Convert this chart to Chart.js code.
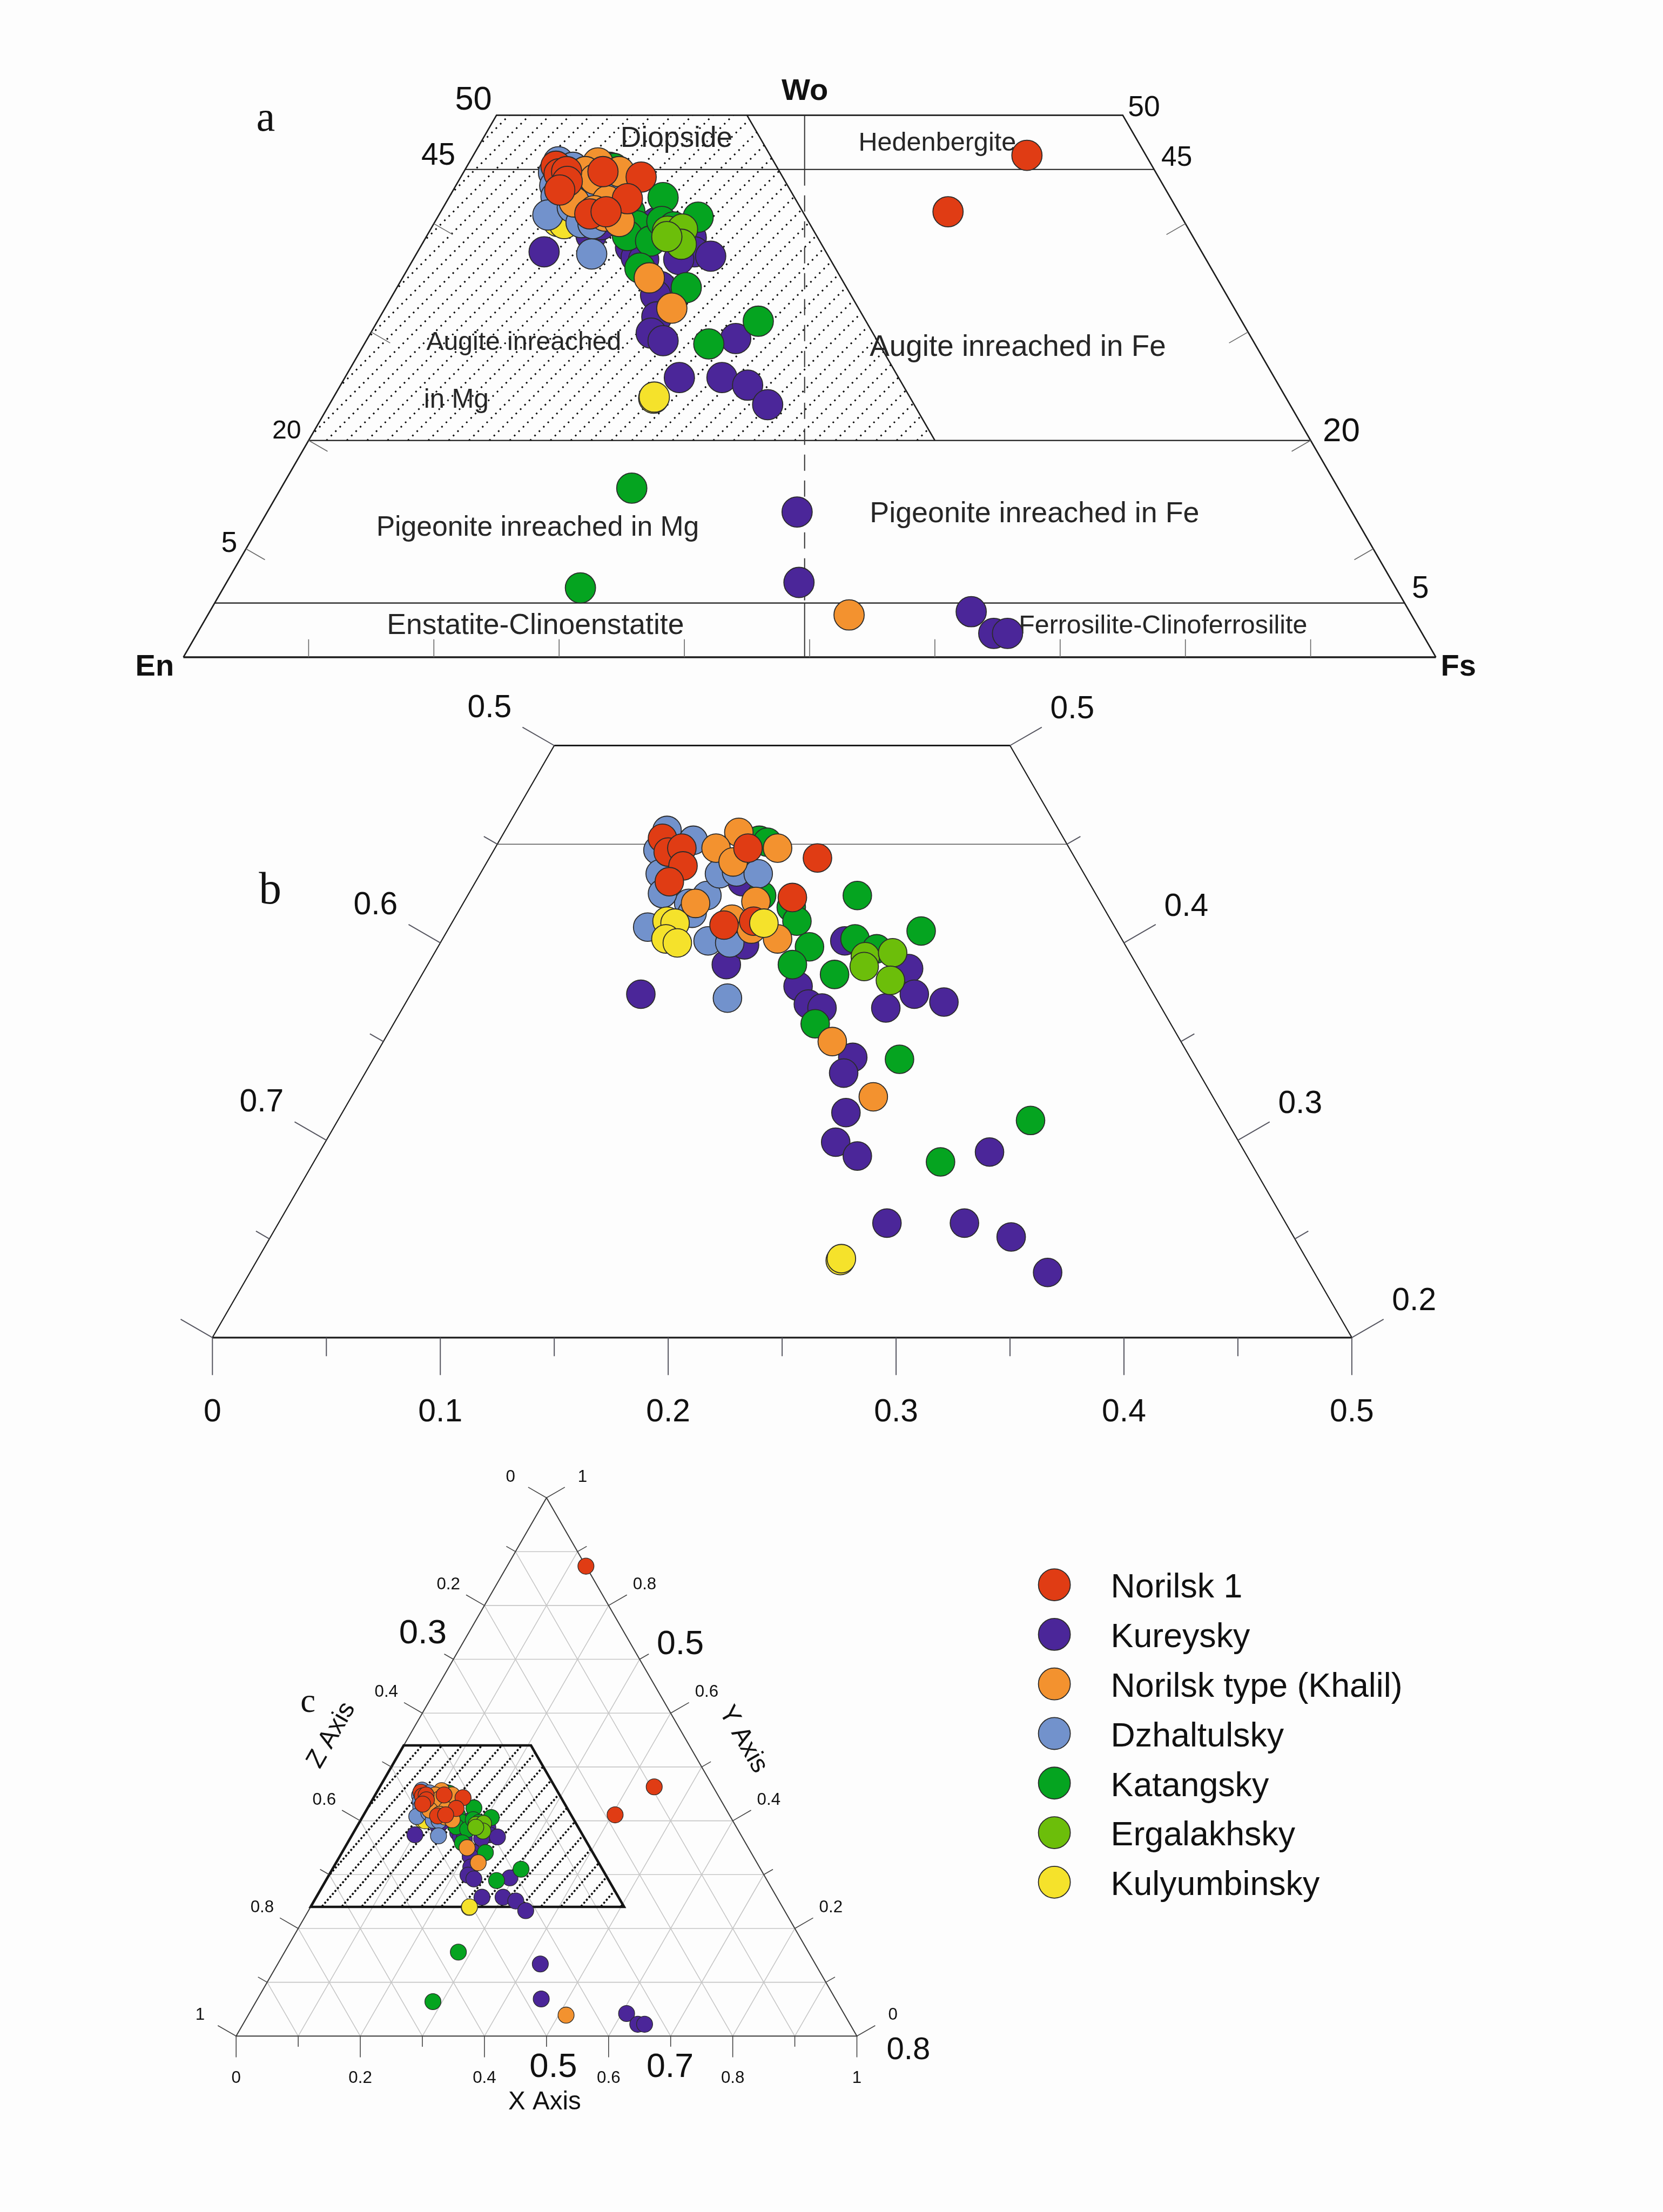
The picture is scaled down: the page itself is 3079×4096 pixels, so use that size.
<!DOCTYPE html>
<html>
<head>
<title>Pyroxene ternary diagrams</title>
<script src="https://cdn.jsdelivr.net/npm/chart.js@4.4.1/dist/chart.umd.min.js"></script>
<style>
  body { margin: 0; background: #fdfdfd; }
  canvas { position: absolute; left: 0; }
</style>
</head>
<body>
<canvas id="chartA" width="3079" height="1280" style="top:0px"></canvas>
<canvas id="chartB" width="3079" height="1410" style="top:1280px"></canvas>
<canvas id="chartC" width="3079" height="1406" style="top:2690px"></canvas>
<script>
// pyroxene compositions: [Wo %, Fs %]  (En = 100 - Wo - Fs)
const norilsk1 = [[45.3,7.1],[44.6,7.7],[44.8,8.2],[43.9,8.7],[43.1,8.5],[44.8,11.1],[44.3,14.4],[42.3,14.3],[40.9,12.0],[41.1,13.2],[46.3,44.2],[41.1,40.5],[87.3,12.7]];
const kureysky = [[43.1,11.7],[37.4,10.1],[38.9,13.1],[39.9,13.4],[40.1,17.7],[38.7,21.2],[37.4,22.1],[36.7,21.2],[37.0,23.6],[37.8,16.8],[36.9,17.7],[36.7,18.4],[34.2,21.0],[33.4,21.0],[31.4,22.1],[29.9,22.4],[29.2,23.7],[29.4,29.4],[25.8,26.7],[25.8,30.1],[25.1,32.5],[23.3,35.0],[13.4,42.3],[6.9,45.7],[4.2,60.8],[2.2,63.6],[2.2,64.7]];
const norilskType = [[45.6,10.3],[44.8,9.7],[44.1,10.8],[44.8,12.4],[42.0,10.2],[42.1,12.8],[41.2,12.2],[40.7,13.3],[40.2,14.7],[35.0,19.7],[32.2,22.9],[3.9,51.2]];
const dzhaltulsky = [[45.7,7.1],[44.7,7.2],[45.2,8.5],[42.0,9.9],[43.5,7.9],[42.5,8.5],[42.4,10.5],[43.5,10.5],[43.6,11.2],[43.5,12.2],[40.8,8.7],[41.5,10.3],[40.1,11.7],[40.0,12.7],[37.2,14.0]];
const katangsky = [[45.2,11.4],[45.1,11.8],[42.4,12.9],[42.4,17.1],[40.6,20.8],[41.8,14.5],[41.1,15.1],[39.8,16.3],[38.9,16.0],[38.4,18.1],[40.2,18.1],[39.7,19.3],[35.9,18.5],[34.1,23.1],[31.0,30.4],[28.9,27.5],[15.6,28.0],[6.4,28.5]];
const ergalakhsky = [[39.3,19.0],[39.5,20.1],[38.1,20.7],[38.8,19.2]];
const kulyumbinsky = [[41.1,9.4],[41.0,9.8],[40.2,9.8],[40.0,10.4],[41.0,13.7],[23.9,25.6],[24.0,25.6]];

const seriesList = [norilsk1, kureysky, norilskType, dzhaltulsky, katangsky, ergalakhsky, kulyumbinsky];
const seriesNames = ['Norilsk 1', 'Kureysky', 'Norilsk type (Khalil)', 'Dzhaltulsky', 'Katangsky', 'Ergalakhsky', 'Kulyumbinsky'];
const seriesColors = ['#e03c14', '#4b2699', '#f3922f', '#7292cc', '#05a420', '#6cbe0a', '#f5e22b'];
// painting order per panel, lower = on top
const stackingA = [1, 6, 2, 3, 5, 4, 5.5];
const stackingB = [1, 6, 2, 3, 5, 4, 0];

// tick values
const sideTicksA = [10, 20, 30, 40];
const enLabelsB = [0.5, 0.4, 0.3];      // Wo at which the En labels sit
const woLabelsB = [0.5, 0.4, 0.3, 0.2];

const K = 3079 / 1179;   // sizes below are measured on the 1179px preview
const SANS = "'Liberation Sans', Arial, sans-serif";
const SERIF = "'Liberation Serif', 'Times New Roman', serif";

// ---- drawing helpers (h = Fs + Wo/2, w = Wo) ----
function at(chart, h, w) {
  return [chart.scales.x.getPixelForValue(h), chart.scales.y.getPixelForValue(w)];
}
function line(ctx, chart, pts, close) {
  ctx.beginPath();
  pts.forEach((p, i) => {
    const q = at(chart, p[0], p[1]);
    if (i) ctx.lineTo(q[0], q[1]); else ctx.moveTo(q[0], q[1]);
  });
  if (close) ctx.closePath();
  ctx.stroke();
}
function tick(ctx, p, dir, len) {
  ctx.beginPath();
  ctx.moveTo(p[0], p[1]);
  ctx.lineTo(p[0] + dir[0] * len, p[1] + dir[1] * len);
  ctx.stroke();
}
function shift(p, dir, len) {
  return [p[0] + dir[0] * len, p[1] + dir[1] * len];
}
function text(ctx, s, p, size, opt) {
  opt = opt || {};
  ctx.save();
  ctx.font = (opt.weight || 'normal') + ' ' + (size * K).toFixed(1) + 'px ' + (opt.family || SANS);
  ctx.fillStyle = opt.color || '#111';
  ctx.textAlign = opt.align || 'center';
  ctx.textBaseline = 'middle';
  ctx.translate(p[0], p[1]);
  if (opt.rotate) ctx.rotate(opt.rotate);
  ctx.fillText(s, 0, 0);
  ctx.restore();
}
function hatch(ctx, chart, pts, gap, deg, lw, dash) {
  ctx.save();
  ctx.beginPath();
  pts.forEach((p, i) => {
    const q = at(chart, p[0], p[1]);
    if (i) ctx.lineTo(q[0], q[1]); else ctx.moveTo(q[0], q[1]);
  });
  ctx.closePath();
  ctx.clip();
  const area = chart.chartArea;
  const rise = area.bottom - area.top + 2 * gap;
  const run = rise / Math.tan(deg * Math.PI / 180);
  ctx.strokeStyle = '#0a0a0a';
  ctx.lineWidth = lw;
  ctx.setLineDash(dash);
  for (let x = area.left - run - gap; x < area.right + gap; x += gap) {
    ctx.beginPath();
    ctx.moveTo(x, area.bottom + gap);
    ctx.lineTo(x + run, area.bottom + gap - rise);
    ctx.stroke();
  }
  ctx.restore();
}
function fmt(v) {
  if (Math.abs(v) < 1e-9) return '0';
  if (Math.abs(v - 1) < 1e-9) return '1';
  return v.toFixed(1);
}

// ---- panel a : Wo-En-Fs, Wo up to 50 % ----
const frameA = {
  id: 'frameA',
  beforeDatasetsDraw(chart) {
    const ctx = chart.ctx;
    ctx.save();
    hatch(ctx, chart, [[25, 50], [45, 50], [60, 20], [10, 20]], 37.7, 45, 3, [3, 8.5]);
    ctx.strokeStyle = '#1c1c1c';
    ctx.lineWidth = 2.6;
    line(ctx, chart, [[45, 50], [60, 20]]);
    line(ctx, chart, [[0, 0], [25, 50], [75, 50], [100, 0]]);
    ctx.lineWidth = 3.6;
    line(ctx, chart, [[0, 0], [100, 0]]);
    ctx.lineWidth = 2.2;
    [45, 20, 5].forEach(w => line(ctx, chart, [[w / 2, w], [100 - w / 2, w]]));

    // En = Fs divide
    ctx.strokeStyle = '#333';
    ctx.lineWidth = 2;
    line(ctx, chart, [[49.6, 50], [49.6, 45]]);
    line(ctx, chart, [[49.6, 5], [49.6, 0]]);
    ctx.setLineDash([30, 18]);
    line(ctx, chart, [[49.6, 45], [49.6, 5]]);
    ctx.setLineDash([]);

    ctx.strokeStyle = '#666';
    ctx.lineWidth = 1.6;
    for (let f = 10; f < 100; f += 10) tick(ctx, at(chart, f, 0), [0, -1], 12.7 * K);
    sideTicksA.forEach(w => {
      tick(ctx, at(chart, w / 2, w), [0.866, 0.5], 15.5 * K);
      tick(ctx, at(chart, 100 - w / 2, w), [-0.866, 0.5], 15.5 * K);
    });

    const names = [
      ['Diopside', 34.9, 47.8, 20.4],
      ['Hedenbergite', 53.9, 47.4, 18.6],
      ['Augite inreached', 19.4, 29.0, 18.4],
      ['in Mg', 19.2, 23.7, 18.8],
      ['Augite inreached in Fe', 54.8, 28.55, 21.0],
      ['Pigeonite inreached in Mg', 15.4, 11.9, 19.8],
      ['Pigeonite inreached in Fe', 54.8, 13.2, 20.6],
      ['Enstatite-Clinoenstatite', 16.25, 2.9, 20.5],
      ['Ferrosilite-Clinoferrosilite', 66.7, 2.85, 18.5]
    ];
    names.forEach(n => text(ctx, n[0], at(chart, n[1], n[2]), n[3], { align: 'left', color: '#262626' }));

    const nums = [
      ['50', 23.16, 51.35, 23.5], ['45', 20.35, 46.2, 21.7], ['20', 8.25, 20.84, 18.5], ['5', 3.66, 10.47, 20.5],
      ['50', 76.69, 50.65, 20.5], ['45', 79.31, 46.02, 19.7], ['20', 92.45, 20.76, 23.7], ['5', 98.76, 6.24, 21.7]
    ];
    nums.forEach(n => text(ctx, n[0], at(chart, n[1], n[2]), n[3]));
    text(ctx, 'Wo', at(chart, 49.62, 52.2), 21.5, { weight: 'bold' });
    text(ctx, 'En', at(chart, -2.29, -0.91), 21.5, { weight: 'bold' });
    text(ctx, 'Fs', at(chart, 101.8, -0.91), 21.5, { weight: 'bold' });
    text(ctx, 'a', at(chart, 6.57, 49.6), 30, { family: SERIF });
    ctx.restore();
  }
};

// ---- panel b : zoom on the augite field ----
const frameB = {
  id: 'frameB',
  beforeDatasetsDraw(chart) {
    const ctx = chart.ctx;
    ctx.save();
    ctx.strokeStyle = '#555';
    ctx.lineWidth = 1.6;
    line(ctx, chart, [[0.225, 0.45], [0.475, 0.45]]);
    ctx.strokeStyle = '#1c1c1c';
    ctx.lineWidth = 2.2;
    line(ctx, chart, [[0.1, 0.2], [0.25, 0.5]]);
    line(ctx, chart, [[0.6, 0.2], [0.45, 0.5]]);
    ctx.lineWidth = 3.2;
    line(ctx, chart, [[0.1, 0.2], [0.6, 0.2]]);
    line(ctx, chart, [[0.25, 0.5], [0.45, 0.5]]);

    ctx.strokeStyle = '#55555f';
    ctx.lineWidth = 2;
    for (let i = 0; i <= 10; i++) {
      const f = i * 0.05;
      tick(ctx, at(chart, f + 0.1, 0.2), [0, 1], (i % 2 === 0 ? 26.6 : 13.2) * K);
      if (i % 2 === 0) text(ctx, fmt(f), shift(at(chart, f + 0.1, 0.2), [0, 1], 53.4 * K), 22.5);
    }
    for (let i = 0; i <= 6; i++) {
      const w = 0.2 + i * 0.05;
      const len = (i % 2 === 0 ? 26 : 11) * K;
      tick(ctx, at(chart, w / 2, w), [-0.866, -0.5], len);
      tick(ctx, at(chart, 0.7 - w / 2, w), [0.866, -0.5], len);
    }
    enLabelsB.forEach(w => text(ctx, fmt(1 - w), shift(at(chart, w / 2, w), [-0.866, -0.5], 53 * K), 22.5));
    woLabelsB.forEach(w => text(ctx, fmt(w), shift(at(chart, 0.7 - w / 2, w), [0.866, -0.5], 51 * K), 22.5));
    text(ctx, 'b', at(chart, 0.1253, 0.4259), 32, { family: SERIF });
    ctx.restore();
  }
};

// ---- panel c : full triangle ----
const frameC = {
  id: 'frameC',
  beforeDatasetsDraw(chart) {
    const ctx = chart.ctx;
    ctx.save();
    ctx.strokeStyle = '#c6c6c6';
    ctx.lineWidth = 1.6;
    for (let i = 1; i < 10; i++) {
      const v = i / 10;
      line(ctx, chart, [[v / 2, v], [1 - v / 2, v]]);
      line(ctx, chart, [[v, 0], [v + (1 - v) / 2, 1 - v]]);
      line(ctx, chart, [[1 - v, 0], [(1 - v) / 2, 1 - v]]);
    }
    const field = [[0.27, 0.54], [0.475, 0.54], [0.625, 0.24], [0.12, 0.24]];
    hatch(ctx, chart, field, 36.9, 49, 3.6, [3.6, 3.6]);
    ctx.strokeStyle = '#3a3a3a';
    ctx.lineWidth = 2;
    line(ctx, chart, [[0, 0], [1, 0], [0.5, 1]], true);
    ctx.strokeStyle = '#151515';
    ctx.lineWidth = 4.6;
    line(ctx, chart, field, true);

    ctx.strokeStyle = '#444';
    ctx.lineWidth = 1.6;
    for (let i = 0; i <= 10; i++) {
      const v = i / 10;
      const major = i % 2 === 0;
      const len = (major ? 15 : 7.5) * K;
      const pb = at(chart, v, 0);
      const pl = at(chart, (1 - v) / 2, 1 - v);
      const pr = at(chart, 1 - v / 2, v);
      tick(ctx, pb, [0, 1], len);
      tick(ctx, pl, [-0.866, -0.5], len);
      tick(ctx, pr, [0.866, -0.5], len);
      if (major) {
        text(ctx, fmt(v), shift(pb, [0, 1], 29.9 * K), 12);
        text(ctx, fmt(v), shift(pl, [-0.866, -0.5], 29.5 * K), 12);
        text(ctx, fmt(v), shift(pr, [0.866, -0.5], 29.5 * K), 12);
      }
    }
    const big = [['0.3', 0.3008, 0.7473, 24.3], ['0.5', 0.7155, 0.7274, 24], ['0.5', 0.511, -0.0585, 24.3],
                 ['0.7', 0.699, -0.0585, 24], ['0.8', 1.083, -0.0265, 22.3]];
    big.forEach(b => text(ctx, b[0], at(chart, b[1], b[2]), b[3]));
    text(ctx, 'X Axis', at(chart, 0.497, -0.1225), 18.2);
    text(ctx, 'Z Axis', at(chart, 0.1536, 0.559), 18.2, { rotate: -Math.PI / 3 });
    text(ctx, 'Y Axis', at(chart, 0.8166, 0.551), 18.2, { rotate: Math.PI / 3 });
    text(ctx, 'c', at(chart, 0.1157, 0.619), 24, { family: SERIF });
    ctx.restore();
  },
  afterDraw(chart) {
    const ctx = chart.ctx;
    ctx.save();
    chart.data.datasets.forEach((ds, i) => {
      const y = (1123.7 + i * 35.15 - 1030.04) * K;
      ctx.beginPath();
      ctx.arc(747.5 * K, y, 11.3 * K, 0, 2 * Math.PI);
      ctx.fillStyle = ds.backgroundColor;
      ctx.fill();
      ctx.lineWidth = 1.8;
      ctx.strokeStyle = '#2b2b2b';
      ctx.stroke();
      text(ctx, ds.label, [787.5 * K, y + 2.5 * K], 24, { align: 'left' });
    });
    ctx.restore();
  }
};

function makeDatasets(unit, keep, radius, border, stacking) {
  return seriesList.map((rows, i) => ({
    label: seriesNames[i],
    data: rows.filter(keep).map(([wo, fs]) => ({ x: (fs + wo / 2) / unit, y: wo / unit })),
    backgroundColor: seriesColors[i],
    borderColor: '#2b2b2b',
    borderWidth: border,
    pointRadius: radius,
    pointHoverRadius: radius,
    order: stacking[i]
  }));
}

function makeOptions(xr, yr, pad) {
  return {
    responsive: false,
    animation: false,
    devicePixelRatio: 1,
    events: [],
    layout: { padding: pad },
    plugins: { legend: { display: false }, tooltip: { enabled: false } },
    scales: {
      x: { type: 'linear', display: false, min: xr[0], max: xr[1] },
      y: { type: 'linear', display: false, min: yr[0], max: yr[1] }
    }
  };
}

new Chart(document.getElementById('chartA'), {
  type: 'scatter',
  data: { datasets: makeDatasets(1, r => r[0] <= 50, 28, 1.8, stackingA) },
  options: makeOptions([0, 100], [0, 50], { left: 339.5, right: 420.5, top: 213.4, bottom: 63 }),
  plugins: [frameA]
});

new Chart(document.getElementById('chartB'), {
  type: 'scatter',
  data: { datasets: makeDatasets(100, r => r[0] >= 20 && r[0] <= 50 && 100 - r[0] - r[1] >= 29, 26.4, 1.8, stackingB) },
  options: makeOptions([0.1, 0.6], [0.2, 0.5], { left: 393.3, right: 576.1, top: 100.5, bottom: 213.2 }),
  plugins: [frameB]
});

new Chart(document.getElementById('chartC'), {
  type: 'scatter',
  data: { datasets: makeDatasets(100, () => true, 14.9, 1.3, stackingA) },
  options: makeOptions([0, 1], [0, 1], { left: 437.2, right: 1492.5, top: 83.5, bottom: 325.7 }),
  plugins: [frameC]
});
</script>
</body>
</html>
